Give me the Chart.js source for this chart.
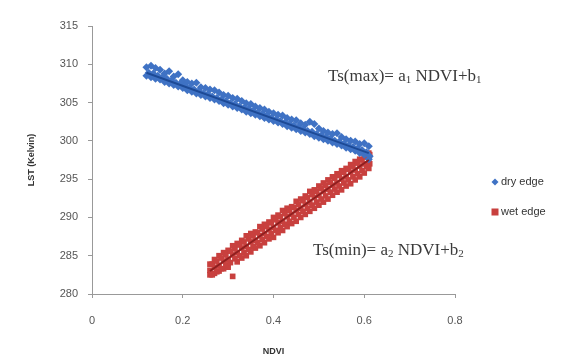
<!DOCTYPE html>
<html>
<head>
<meta charset="utf-8">
<script src="https://cdn.jsdelivr.net/npm/chart.js@4.4.1/dist/chart.umd.min.js"></script>
<style>
  html, body { margin: 0; padding: 0; background: #fff; }
  #wrap { width: 568px; height: 363px; }
</style>
</head>
<body>
<div id="wrap"><canvas id="myChart" width="568" height="363"></canvas></div>
<script>
// NDVI positions and LST (Kelvin)
const ndviDry = [0.12, 0.13, 0.14, 0.15, 0.16, 0.17, 0.18, 0.19, 0.20, 0.21, 0.22, 0.23, 0.24, 0.25, 0.26, 0.27, 0.28, 0.29, 0.30, 0.31, 0.32, 0.33, 0.34, 0.35, 0.36, 0.37, 0.38, 0.39, 0.40, 0.41, 0.42, 0.43, 0.44, 0.45, 0.46, 0.47, 0.48, 0.49, 0.50, 0.51, 0.52, 0.53, 0.54, 0.55, 0.56, 0.57, 0.58, 0.59, 0.60, 0.61];
const dryHigh = [309.6, 309.8, 309.5, 309.3, 308.8, 309.1, 308.4, 308.7, 307.9, 307.7, 307.5, 307.6, 307.0, 306.9, 306.7, 306.6, 306.3, 306.0, 305.9, 305.6, 305.5, 305.2, 304.9, 304.8, 304.5, 304.3, 304.1, 303.8, 303.6, 303.4, 303.3, 303.0, 302.8, 302.7, 302.3, 302.1, 302.5, 302.2, 301.6, 301.3, 301.1, 300.9, 301.0, 300.5, 300.2, 300.0, 299.9, 299.6, 299.7, 299.3];
const dryLow = [308.5, 308.3, 308.1, 308.0, 307.7, 307.5, 307.3, 307.1, 306.9, 306.6, 306.4, 306.2, 306.0, 305.8, 305.6, 305.4, 305.2, 304.9, 304.7, 304.5, 304.3, 304.1, 303.8, 303.6, 303.4, 303.2, 303.0, 302.8, 302.6, 302.4, 302.2, 301.9, 301.7, 301.5, 301.3, 301.1, 300.9, 300.6, 300.4, 300.2, 300.0, 299.8, 299.6, 299.4, 299.1, 298.9, 298.7, 298.4, 298.2, 297.6];
const ndviDryB = [0.125, 0.135, 0.145, 0.155, 0.165, 0.175, 0.185, 0.195, 0.205, 0.215, 0.225, 0.235, 0.245, 0.255, 0.265, 0.275, 0.285, 0.295, 0.305, 0.315, 0.325, 0.335, 0.345, 0.355, 0.365, 0.375, 0.385, 0.395, 0.405, 0.415, 0.425, 0.435, 0.445, 0.455, 0.465, 0.475, 0.485, 0.495, 0.505, 0.515, 0.525, 0.535, 0.545, 0.555, 0.565, 0.575, 0.585, 0.595, 0.605, 0.612];
const dryMid = [308.9, 308.8, 308.5, 308.3, 308.1, 307.9, 307.6, 307.5, 307.2, 306.9, 306.7, 306.5, 306.2, 306.1, 305.8, 305.6, 305.4, 305.2, 304.9, 304.8, 304.5, 304.3, 304.2, 303.9, 303.7, 303.5, 303.3, 303.0, 302.8, 302.6, 302.4, 302.2, 302.0, 301.8, 301.5, 301.3, 301.2, 300.9, 300.7, 300.5, 300.3, 300.0, 299.9, 299.6, 299.4, 299.2, 299.0, 298.8, 298.5, 298.0];

const ndviWet = [0.26, 0.27, 0.28, 0.29, 0.30, 0.31, 0.32, 0.33, 0.34, 0.35, 0.36, 0.37, 0.38, 0.39, 0.40, 0.41, 0.42, 0.43, 0.44, 0.45, 0.46, 0.47, 0.48, 0.49, 0.50, 0.51, 0.52, 0.53, 0.54, 0.55, 0.56, 0.57, 0.58, 0.59, 0.60, 0.61];
const wetHigh = [283.9, 284.5, 285.0, 285.4, 285.7, 286.3, 286.6, 287.0, 287.6, 287.9, 288.1, 288.8, 289.1, 289.4, 290.0, 290.3, 290.9, 291.2, 291.4, 292.1, 292.4, 292.8, 293.4, 293.6, 294.1, 294.5, 294.9, 295.3, 295.7, 296.1, 296.4, 296.9, 297.3, 297.6, 298.1, 298.4];
const wetMid = [283.1, 283.5, 283.7, 284.3, 284.5, 285.1, 285.4, 286.0, 286.2, 286.8, 287.0, 287.6, 287.9, 288.4, 288.7, 289.3, 289.5, 290.1, 290.4, 290.9, 291.2, 291.7, 292.0, 292.6, 292.9, 293.4, 293.7, 294.2, 294.5, 295.0, 295.3, 295.9, 296.2, 296.7, 297.0, 297.5];
const wetLow = [282.5, 282.7, 283.0, 283.3, 283.5, 282.3, 284.2, 284.7, 285.0, 285.5, 286.0, 286.3, 286.7, 287.2, 287.4, 288.0, 288.3, 288.8, 289.2, 289.5, 290.0, 290.4, 290.8, 291.2, 291.6, 292.0, 292.4, 292.9, 293.3, 293.6, 294.1, 294.4, 294.9, 295.3, 295.8, 296.4];
const ndviWetB = [0.265, 0.275, 0.285, 0.295, 0.305, 0.315, 0.325, 0.335, 0.345, 0.355, 0.365, 0.375, 0.385, 0.395, 0.405, 0.415, 0.425, 0.435, 0.445, 0.455, 0.465, 0.475, 0.485, 0.495, 0.505, 0.515, 0.525, 0.535, 0.545, 0.555, 0.565, 0.575, 0.585, 0.595, 0.605, 0.612];
const wetUpB = [283.9, 284.3, 284.7, 285.1, 285.6, 285.9, 286.4, 286.8, 287.2, 287.6, 288.0, 288.5, 288.8, 289.3, 289.7, 290.1, 290.5, 290.9, 291.3, 291.7, 292.2, 292.6, 293.0, 293.4, 293.8, 294.2, 294.6, 295.1, 295.5, 295.9, 296.3, 296.7, 297.1, 297.5, 297.9, 298.2];
const wetDnB = [282.5, 282.9, 283.3, 283.8, 284.1, 284.6, 285.0, 285.4, 285.8, 286.2, 286.7, 287.1, 287.5, 287.9, 288.3, 288.7, 289.1, 289.5, 290.0, 290.4, 290.8, 291.2, 291.6, 292.0, 292.4, 292.8, 293.3, 293.7, 294.1, 294.5, 294.9, 295.3, 295.7, 296.1, 296.6, 297.0];

// fitted edge lines (end points)
const dryFitX = [0.12, 0.61];
const dryFitY = [308.9, 298.4];
const wetFitX = [0.26, 0.61];
const wetFitY = [283.0, 297.5];

const seriesNames = ['dry edge', 'wet edge'];

const blue = '#3f72c4';
const red = '#c8403e';

function pts(xs, ys) {
  return xs.map((x, i) => ({ x: x, y: ys[i] }));
}

// annotations + legend drawn on the canvas
const extras = {
  id: 'extras',
  afterDraw(chart) {
    const ctx = chart.ctx;
    const xs = chart.scales.x, ys = chart.scales.y;

    function formula(label, sub, px, py) {
      ctx.save();
      ctx.fillStyle = '#3a3a3a';
      ctx.textBaseline = 'middle';
      ctx.textAlign = 'left';
      let x = px;
      const big = '17px "Liberation Serif", serif';
      const small = '11px "Liberation Serif", serif';
      const parts = [[label, big, 0], [sub, small, 4], [' NDVI+b', big, 0], [sub, small, 4]];
      parts.forEach(p => {
        ctx.font = p[1];
        ctx.fillText(p[0], x, py + p[2]);
        x += ctx.measureText(p[0]).width;
      });
      ctx.restore();
    }
    formula('Ts(max)= a', '1', xs.getPixelForValue(0.52), ys.getPixelForValue(308.4));
    formula('Ts(min)= a', '2', xs.getPixelForValue(0.487), ys.getPixelForValue(285.7));

    // legend
    const lx = chart.chartArea.right + 40;
    const ly = [182, 212];
    ctx.save();
    ctx.font = '11px "Liberation Sans", sans-serif';
    ctx.textBaseline = 'middle';
    ctx.fillStyle = blue;
    ctx.beginPath();
    ctx.moveTo(lx, ly[0] - 3.5);
    ctx.lineTo(lx + 3.5, ly[0]);
    ctx.lineTo(lx, ly[0] + 3.5);
    ctx.lineTo(lx - 3.5, ly[0]);
    ctx.closePath();
    ctx.fill();
    ctx.fillStyle = red;
    ctx.fillRect(lx - 3.5, ly[1] - 3.5, 7, 7);
    ctx.fillStyle = '#333';
    ctx.fillText(seriesNames[0], lx + 6, ly[0]);
    ctx.fillText(seriesNames[1], lx + 6, ly[1]);
    ctx.restore();
  }
};

const ctx = document.getElementById('myChart').getContext('2d');
new Chart(ctx, {
  type: 'scatter',
  data: {
    datasets: [
      {
        label: 'dry fit',
        type: 'line',
        data: pts(dryFitX, dryFitY),
        borderColor: '#1d4a96',
        borderWidth: 2,
        pointRadius: 0,
        showLine: true
      },
      {
        label: 'wet fit',
        type: 'line',
        data: pts(wetFitX, wetFitY),
        borderColor: '#8e1f1f',
        borderWidth: 2,
        pointRadius: 0,
        showLine: true
      },
      {
        label: seriesNames[0],
        data: pts(ndviDry, dryHigh).concat(pts(ndviDry, dryLow), pts(ndviDryB, dryMid)),
        pointStyle: 'rectRot',
        pointRadius: 4,
        backgroundColor: blue,
        borderColor: blue,
        borderWidth: 0
      },
      {
        label: seriesNames[1],
        data: pts(ndviWet, wetHigh).concat(pts(ndviWet, wetMid), pts(ndviWet, wetLow), pts(ndviWetB, wetUpB), pts(ndviWetB, wetDnB)),
        pointStyle: 'rect',
        pointRadius: 4,
        backgroundColor: red,
        borderColor: red,
        borderWidth: 0
      }
    ]
  },
  options: {
    responsive: false,
    animation: false,
    devicePixelRatio: 1,
    layout: { padding: { top: 26, right: 113, left: 0, bottom: 0 } },
    plugins: {
      legend: { display: false },
      tooltip: { enabled: false }
    },
    scales: {
      x: {
        type: 'linear',
        min: 0,
        max: 0.8,
        ticks: {
          stepSize: 0.2,
          color: '#555',
          font: { size: 11, family: 'Liberation Sans' },
          padding: 16,
          callback: v => (v === 0 ? '0' : v.toFixed(1))
        },
        grid: { drawOnChartArea: false, tickLength: 4, color: '#999' },
        border: { color: '#999' },
        title: {
          display: true,
          text: 'NDVI',
          color: '#333',
          font: { size: 9, weight: 'bold', family: 'Liberation Sans' },
          padding: { top: 0, bottom: 6 }
        },
        afterFit(scale) { scale.height = 69; }
      },
      y: {
        type: 'linear',
        min: 280,
        max: 315,
        ticks: {
          stepSize: 5,
          color: '#555',
          font: { size: 11, family: 'Liberation Sans' },
          padding: 10
        },
        grid: { drawOnChartArea: false, tickLength: 4, color: '#999' },
        border: { color: '#999' },
        title: {
          display: true,
          text: 'LST (Kelvin)',
          color: '#333',
          font: { size: 9, weight: 'bold', family: 'Liberation Sans' },
          padding: { top: 26, bottom: 0 }
        },
        afterFit(scale) { scale.width = 92; }
      }
    }
  },
  plugins: [extras]
});
</script>
</body>
</html>
